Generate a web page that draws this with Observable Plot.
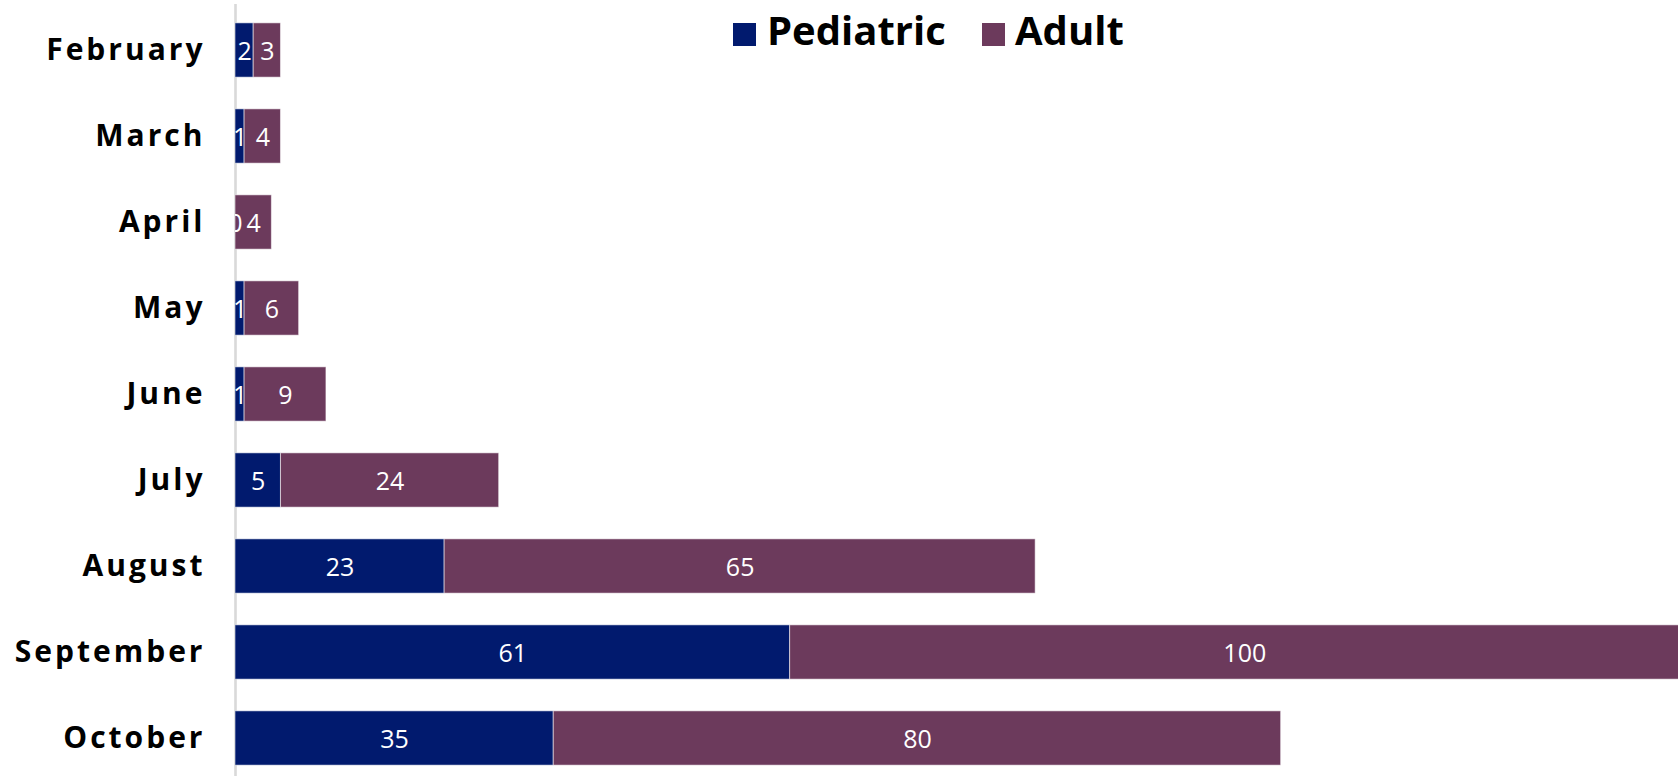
<!DOCTYPE html>
<html>
<head>
<meta charset="utf-8">
<script src="https://cdn.jsdelivr.net/npm/d3@7"></script>
<script src="https://cdn.jsdelivr.net/npm/@observablehq/plot@0.6"></script>
<style>
  html, body { margin: 0; padding: 0; background: #fff; }
  #wrap { position: relative; width: 1678px; height: 776px; overflow: hidden; }
  #legend { position: absolute; left: 0; top: 0; font-family: "Open Sans", sans-serif; font-weight: bold; font-size: 40px; color: #000; }
  .sw { position: absolute; width: 23px; height: 23px; }
  .lt { position: absolute; line-height: 1; white-space: nowrap; }
  g[aria-label="y-axis tick label"] text { letter-spacing: 3px; }
</style>
</head>
<body>
<div id="wrap"><div id="legend"></div></div>
<script>
const months = ["February", "March", "April", "May", "June", "July", "August", "September", "October"];
const series = ["Pediatric", "Adult"];
const pediatric = [2, 1, 0, 1, 1, 5, 23, 61, 35];
const adult = [3, 4, 4, 6, 9, 24, 65, 100, 80];
const colors = ["#011a6e", "#6c3a5c"];

const rows = [];
months.forEach((m, i) => {
  rows.push({month: m, group: series[0], value: pediatric[i]});
  rows.push({month: m, group: series[1], value: adult[i]});
});

const chart = Plot.plot({
  width: 1678,
  height: 776,
  marginLeft: 235,
  marginRight: 0,
  marginTop: 4,
  marginBottom: 0,
  style: {fontFamily: "Open Sans, sans-serif", background: "#fff"},
  x: {domain: [0, 158.7], axis: null},
  y: {domain: months, range: [3.65, 783.95], padding: 0, axis: null},
  color: {domain: series, range: colors},
  marks: [
    Plot.ruleX([0], {stroke: "#d9d9d9", strokeWidth: 2.6}),
    Plot.barX(rows, Plot.stackX({
      x: "value", y: "month", fill: "group", z: "group",
      insetTop: 15.85, insetBottom: 15.85,
      stroke: "#ffffff", strokeOpacity: 0.55, strokeWidth: 1,
      clip: true
    })),
    Plot.text(rows, Plot.stackX({
      x: "value", y: "month", z: "group", text: d => String(d.value),
      fill: "white", fontSize: 25, dy: 1, clip: true
    })),
    Plot.axisY({
      tickSize: 0, tickPadding: 30, fontSize: 30, fontWeight: "bold",
      fill: "#000", label: null
    })
  ]
});
document.getElementById("wrap").prepend(chart);

const legend = document.getElementById("legend");
const legendItems = [
  {swX: 733, txtX: 767},
  {swX: 982, txtX: 1015}
];
series.forEach((s, i) => {
  const sw = document.createElement("div");
  sw.className = "sw";
  sw.style.left = legendItems[i].swX + "px";
  sw.style.top = "23px";
  sw.style.background = colors[i];
  legend.appendChild(sw);
  const t = document.createElement("div");
  t.className = "lt";
  t.style.left = legendItems[i].txtX + "px";
  t.style.top = "10px";
  t.textContent = s;
  legend.appendChild(t);
});
</script>
</body>
</html>
